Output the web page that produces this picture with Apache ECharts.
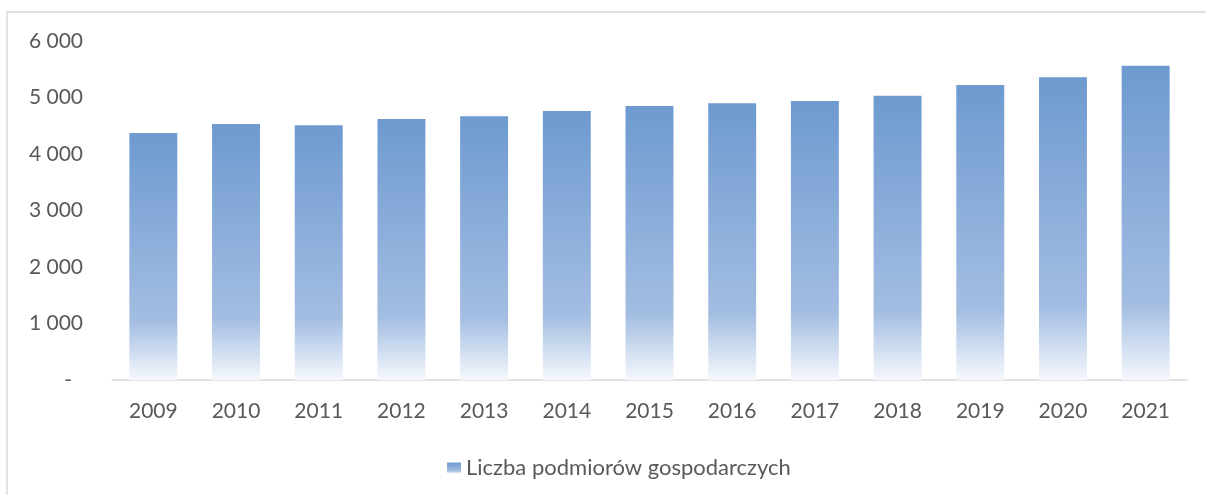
<!DOCTYPE html>
<html>
<head>
<meta charset="utf-8">
<script src="https://cdn.jsdelivr.net/npm/echarts@6/dist/echarts.min.js"></script>
<style>
    html, body { margin: 0; padding: 0; background: #fff; }
    #chart { width: 1206px; height: 495px; }
</style>
</head>
<body>
<div id="chart"></div>
<script>
const years = ['2009', '2010', '2011', '2012', '2013', '2014', '2015', '2016', '2017', '2018', '2019', '2020', '2021'];
const podmioty = [4370, 4530, 4510, 4620, 4670, 4760, 4850, 4900, 4940, 5030, 5220, 5360, 5560];
const seriesName = 'Liczba podmiorów gospodarczych';

const formatThousands = function (v) {
    if (v === 0) {
        return '{dash|-}';
    }
    return String(v).replace(/\B(?=(\d{3})+(?!\d))/g, ' ');
}

const chart = echarts.init(document.getElementById('chart'));

// bar fill fading to white at the base, like the Excel gradient
const barFill = new echarts.graphic.LinearGradient(0, 0, 0, 1, [
    { offset: 0, color: '#6E9AD0' },
    { offset: 0.76, color: '#A3BDE2' },
    { offset: 1, color: '#F5F8FC' }
]);

chart.setOption({
    animation: false,
    textStyle: {
        fontFamily: 'Lato, "Open Sans", sans-serif',
        color: '#595959'
    },

    // chart area border
    graphic: [{
        type: 'rect',
        shape: { x: 7, y: 12, width: 1220, height: 500 },
        style: { fill: 'none', stroke: '#d9d9d9', lineWidth: 1.5 },
        silent: true
    }],

    grid: {
        left: 112,
        right: 19,
        top: 41,
        bottom: 115
    },

    legend: {
        data: [{ name: seriesName, icon: 'rect' }],
        left: 442,
        top: 452,
        itemWidth: 14,
        itemHeight: 11,
        itemGap: 20,
        textStyle: {
            fontSize: 22,
            color: '#595959',
            fontFamily: 'Lato, sans-serif'
        }
    },

    xAxis: {
        type: 'category',
        data: years,
        axisTick: { show: false },
        axisLine: {
            lineStyle: { color: '#d9d9d9', width: 1.5 }
        },
        axisLabel: {
            margin: 21,
            fontSize: 21,
            color: '#595959'
        }
    },

    yAxis: {
        type: 'value',
        min: 0,
        max: 6000,
        interval: 1000,
        axisLine: { show: false },
        axisTick: { show: false },
        splitLine: { show: false },
        axisLabel: {
            margin: 29,
            fontSize: 21,
            color: '#595959',
            formatter: formatThousands,
            rich: {
                dash: {
                    fontSize: 21,
                    color: '#595959',
                    padding: [0, 11, 0, 0]
                }
            }
        }
    },

    series: [{
        name: seriesName,
        type: 'bar',
        data: podmioty,
        barWidth: '58%',
        itemStyle: {
            color: barFill
        }
    }]
});
</script>
</body>
</html>
